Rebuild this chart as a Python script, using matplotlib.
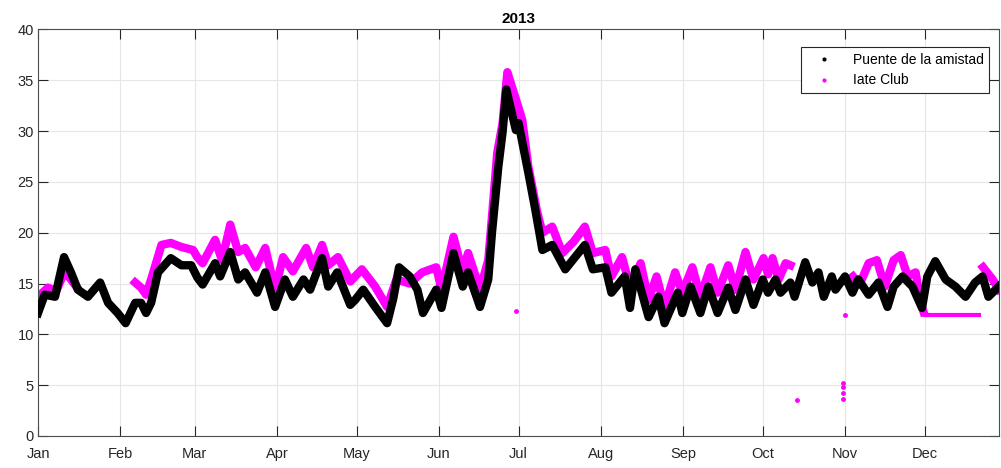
import numpy as np
import matplotlib
matplotlib.use('Agg')
import matplotlib.pyplot as plt
from matplotlib.lines import Line2D

# day of year 2013 (0 = Jan 1) and water temperature
puente_days = [0, 2.5, 6.4, 9.8, 12.4, 15, 18.8, 23.4, 26.4, 30, 33, 36.6, 38.8, 40.7, 42.6,
               45.2, 50, 54, 57.7, 60, 62, 66.7, 68.6, 72.4, 75.4, 78, 82.5, 85.6, 89.3, 93,
               96, 100, 102.5, 107, 109.3, 112.7, 117.6, 119.5, 122.5, 127, 131.5, 133.8, 136,
               140, 142.9, 145, 150, 152, 156.5, 160, 162, 166.5, 169.6, 171, 173.4, 175, 176.4,
               180, 181, 184.7, 187.3, 190, 193.7, 198.6, 206, 209, 213.7, 216, 221, 223, 225,
               230, 233.7, 236, 241, 242.7, 245.8, 249.5, 252.5, 256, 260, 262.7, 266.5, 269.5,
               273, 275, 277.8, 279.7, 283.4, 285, 289, 291.7, 294, 296, 299, 300.4, 304, 306.8,
               309, 312.9, 316.6, 320, 322.3, 325.7, 329.4, 333, 335, 338, 341.9, 345.6, 349.4,
               353, 355.8, 358, 361.9]
puente_vals = [12.1, 13.9, 13.7, 17.6, 16.1, 14.4, 13.7, 15.1, 13.1, 12.1, 11.1, 13.1, 13.1, 12.1, 13.1,
               16.1, 17.5, 16.8, 16.8, 15.6, 14.9, 17.0, 15.7, 18.1, 15.4, 16.1, 14.1, 16.1, 12.7, 15.4,
               13.7, 15.4, 14.4, 17.5, 14.7, 16.1, 12.9, 13.4, 14.4, 12.7, 11.1, 13.5, 16.6,
               15.7, 14.4, 12.1, 14.4, 12.6, 18.0, 14.7, 16.1, 12.7, 15.4, 20.0, 26.5, 29.9, 34.1,
               30.1, 30.8, 25.9, 22.3, 18.3, 18.8, 16.4, 18.8, 16.4, 16.6, 14.1, 15.7, 12.6, 16.4,
               11.7, 13.7, 11.1, 14.1, 12.1, 14.7, 12.1, 14.7, 12.1, 14.6, 12.4, 15.4, 12.9,
               15.4, 14.1, 15.4, 14.1, 15.1, 13.7, 17.1, 15.1, 16.1, 13.7, 15.7, 14.4, 15.7, 14.1,
               15.4, 13.9, 15.1, 12.7, 14.7, 15.7, 14.7, 12.6, 15.7, 17.2, 15.4, 14.7, 13.7,
               15.1, 15.7, 13.7, 14.7]

iate_days = [0, 3.8, 6.8, 10, 12.4, 14.4, 25,
             36.6, 38.8, 40.7, 42.6, 46.5, 50, 54, 58.4, 60, 62, 66.7, 69.3, 72.4, 75.4, 78, 82,
             85.6, 89.3, 92.3, 96, 101, 103.6, 107, 109.3, 113, 117.6, 122, 127, 131.5, 135, 140,
             144.7, 150, 152, 156.5, 160, 162, 166.5, 169.6, 171, 173, 175, 176.8, 181, 182.4,
             184.7, 188, 190, 193.7, 197.5, 201.7, 206, 209, 213.7, 216, 220, 223, 227, 230, 233,
             236, 240, 242.7, 246.5, 249.5, 253.3, 256, 260, 262.7, 266.5, 269.5, 273.3, 275,
             276.7, 279, 281.6, 283.4, 295,
             307, 309.5, 312.9, 316, 319, 322.3, 325, 327.6, 330.6, 332.5, 333.6, 345,
             356, 359.6, 362]
iate_vals = [13.7, 14.6, 14.2, 16.2, 15.4, 14.7, np.nan,
             15.1, 14.6, 13.9, 15.4, 18.8, 19.0, 18.6, 18.3, 17.6, 17.0, 19.3, 17.3, 20.8, 18.1, 18.5, 16.6,
             18.5, 14.4, 17.6, 16.2, 18.5, 16.6, 18.8, 16.8, 17.6, 15.2, 16.4, 14.7, 12.7, 15.4, 15.0,
             16.1, 16.6, 14.4, 19.6, 16.1, 18.0, 14.4, 17.3, 21.6, 27.9, 30.8, 35.8, 32.3, 31.1,
             26.5, 22.1, 20.0, 20.6, 18.0, 19.1, 20.6, 18.0, 18.3, 15.7, 17.6, 14.7, 17.0, 13.4, 15.7,
             12.7, 16.1, 14.1, 16.6, 13.7, 16.6, 14.1, 16.8, 14.4, 18.1, 15.4, 17.5, 15.9,
             17.5, 15.4, 17.0, 16.8, np.nan,
             15.7, 14.9, 17.0, 17.3, 14.7, 17.3, 17.8, 15.7, 16.1, 13.1, 12.2, np.nan,
             16.6, 15.4, 14.4]

# flat stretch and stray readings of the Iate Club sensor
iate_flat_days = [334.0, 354.3]
iate_flat_vals = [11.9, 11.9]
iate_odd_days = [180, 286, 303.4, 303.4, 303.4, 303.4, 303.8]
iate_odd_vals = [12.3, 3.5, 3.6, 4.2, 4.8, 5.2, 11.9]

month_days = [0, 31, 59, 90, 120, 151, 181, 212, 243, 273, 304, 334]
month_labels = ['Jan', 'Feb', 'Mar', 'Apr', 'May', 'Jun', 'Jul', 'Aug', 'Sep', 'Oct', 'Nov', 'Dec']

plt.rcParams['font.family'] = 'Liberation Sans'

fig = plt.figure(figsize=(10.01, 4.68), dpi=100)
ax = fig.add_axes([0.038, 0.0684, 0.960, 0.8686])

ax.plot(iate_days, iate_vals, color='#ff00ff', lw=6, solid_joinstyle='round', zorder=2)
ax.plot(iate_flat_days, iate_flat_vals, color='#ff00ff', lw=3, zorder=2)
ax.plot(iate_odd_days, iate_odd_vals, '.', color='#ff00ff', ms=5, zorder=2)
ax.plot(puente_days, puente_vals, color='black', lw=6, solid_joinstyle='round', zorder=3)

ax.set_xlim(0, 362)
ax.set_ylim(0, 40)
ax.set_xticks(month_days)
ax.set_xticklabels(month_labels)
ax.set_yticks(range(0, 41, 5))
ax.grid(True, color='#e6e6e6', lw=0.8)
ax.set_axisbelow(True)
ax.tick_params(direction='in', top=True, right=True, length=7, labelsize=10.5,
               colors='#262626', pad=3)
ax.tick_params(axis='x', pad=8)
for s in ax.spines.values():
    s.set_color('#4d4d4d')
    s.set_linewidth(0.8)
ax.set_title('2013', fontsize=11, fontweight='bold', pad=5)

handles = [Line2D([], [], marker='.', ls='none', color='black', ms=4),
           Line2D([], [], marker='.', ls='none', color='#ff00ff', ms=4)]
leg = ax.legend(handles, ['Puente de la amistad', 'Iate Club'], loc='upper right',
                bbox_to_anchor=(0.9896, 0.957), borderaxespad=0, fontsize=10,
                fancybox=False, framealpha=1, edgecolor='#262626', handlelength=2.5,
                borderpad=0.4, labelspacing=0.5)
leg.get_frame().set_linewidth(0.8)

fig.savefig('out.png', dpi=100)
